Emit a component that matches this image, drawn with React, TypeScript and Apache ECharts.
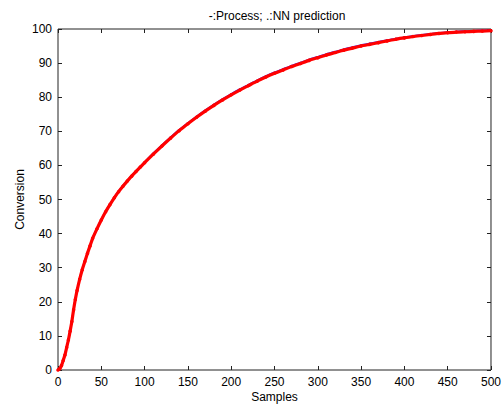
import React, { useEffect, useRef } from "react";
import * as echarts from "echarts";

const samples = [0, 2, 4, 6, 8, 10, 12, 14, 16, 18, 20, 22, 25, 28, 31, 34, 37, 40, 45, 50, 55, 60, 65, 70, 75, 80, 85, 90, 95, 100, 110, 120, 130, 140, 150, 160, 170, 180, 190, 200, 210, 220, 230, 240, 250, 260, 270, 280, 290, 300, 310, 320, 330, 340, 350, 360, 370, 380, 390, 400, 410, 420, 430, 440, 450, 460, 470, 480, 490, 500];

const processValues = [0, 0.5, 1.5, 3, 4.6, 6.8, 9, 11.6, 14.5, 18, 21, 23.5, 26.8, 29.6, 32, 34.4, 36.6, 38.8, 41.6, 44.2, 46.6, 48.7, 50.7, 52.5, 54.1, 55.6, 57.05, 58.4, 59.7, 61, 63.6, 66, 68.3, 70.5, 72.5, 74.4, 76.2, 77.9, 79.5, 81, 82.4, 83.7, 85, 86.2, 87.3, 88.3, 89.3, 90.2, 91.1, 91.9, 92.7, 93.4, 94.1, 94.7, 95.3, 95.8, 96.3, 96.8, 97.2, 97.6, 98, 98.3, 98.6, 98.9, 99.1, 99.3, 99.4, 99.5, 99.6, 99.7];

const predictionValues = [0, 0.4, 1.3, 2.8, 4.4, 6.6, 8.8, 11.4, 14.2, 17.7, 20.7, 23.3, 26.6, 29.4, 31.8, 34.2, 36.4, 38.6, 41.4, 44, 46.4, 48.5, 50.5, 52.3, 53.9, 55.4, 56.85, 58.2, 59.5, 60.8, 63.3, 65.7, 68, 70.2, 72.2, 74.1, 75.9, 77.6, 79.2, 80.7, 82.1, 83.4, 84.7, 85.9, 87, 88, 89, 89.9, 90.8, 91.6, 92.4, 93.1, 93.8, 94.4, 95, 95.5, 96, 96.5, 97, 97.4, 97.8, 98.1, 98.4, 98.7, 98.9, 99.1, 99.2, 99.3, 99.4, 99.5];

const xTicks = { min: 0, max: 500, interval: 50 };
const yTicks = { min: 0, max: 100, interval: 10 };

const titleText = "-:Process; .:NN prediction";
const xName = "Samples";
const yName = "Conversion";

export default function App() {
  const ref = useRef<HTMLDivElement>(null);
  useEffect(() => {
    if (!ref.current) return;
    const chart = echarts.init(ref.current, undefined, { renderer: "svg" });
    const font = "Liberation Sans, Arial, sans-serif";
    const axisCommon = {
      axisLine: { show: false, onZero: false },
      axisTick: { show: true, inside: true, length: 4, lineStyle: { color: "#222", width: 1 } },
      splitLine: { show: false },
    };
    const procData = samples.map((s, i) => [s, processValues[i]]);
    const predData = samples.map((s, i) => [s, predictionValues[i]]);
    chart.setOption({
      animation: false,
      backgroundColor: "#fff",
      title: {
        text: titleText,
        left: 272,
        top: 5,
        textAlign: "center",
        textStyle: { fontFamily: font, fontSize: 12, fontWeight: "normal", color: "#000" },
      },
      grid: {
        left: 58,
        right: 13,
        top: 29,
        bottom: 40,
        show: true,
        borderColor: "#222",
        borderWidth: 1,
        backgroundColor: "transparent",
      },
      xAxis: [
        {
          type: "value",
          ...xTicks,
          position: "bottom",
          name: xName,
          nameLocation: "middle",
          nameGap: 21,
          nameMoveOverlap: false,
          nameTextStyle: { fontFamily: font, fontSize: 12, color: "#000" },
          axisLabel: { fontFamily: font, fontSize: 12, color: "#000", margin: 6 },
          ...axisCommon,
        },
        {
          type: "value",
          ...xTicks,
          position: "top",
          axisLabel: { show: false },
          ...axisCommon,
        },
      ],
      yAxis: [
        {
          type: "value",
          ...yTicks,
          position: "left",
          name: yName,
          nameLocation: "middle",
          nameGap: 32,
          nameMoveOverlap: false,
          nameRotate: 90,
          nameTextStyle: { fontFamily: font, fontSize: 12, color: "#000" },
          axisLabel: { fontFamily: font, fontSize: 12, color: "#000", margin: 6 },
          ...axisCommon,
        },
        {
          type: "value",
          ...yTicks,
          position: "right",
          axisLabel: { show: false },
          ...axisCommon,
        },
      ],
      series: [
        {
          name: "Process",
          type: "line",
          data: procData,
          smooth: 0.2,
          showSymbol: false,
          lineStyle: { color: "#3030ff", width: 1.5 },
          z: 2,
        },
        {
          name: "NN prediction",
          type: "line",
          data: predData,
          smooth: 0.2,
          symbol: "circle",
          symbolSize: 3.5,
          itemStyle: { color: "#ff0000" },
          lineStyle: { color: "#ff0000", width: 3.2 },
          z: 3,
        },
      ],
    });
    return () => chart.dispose();
  }, []);
  return (
    <div
      ref={ref}
      style={{ width: 504, height: 410, position: "absolute", left: 0, top: 0 }}
    />
  );
}
